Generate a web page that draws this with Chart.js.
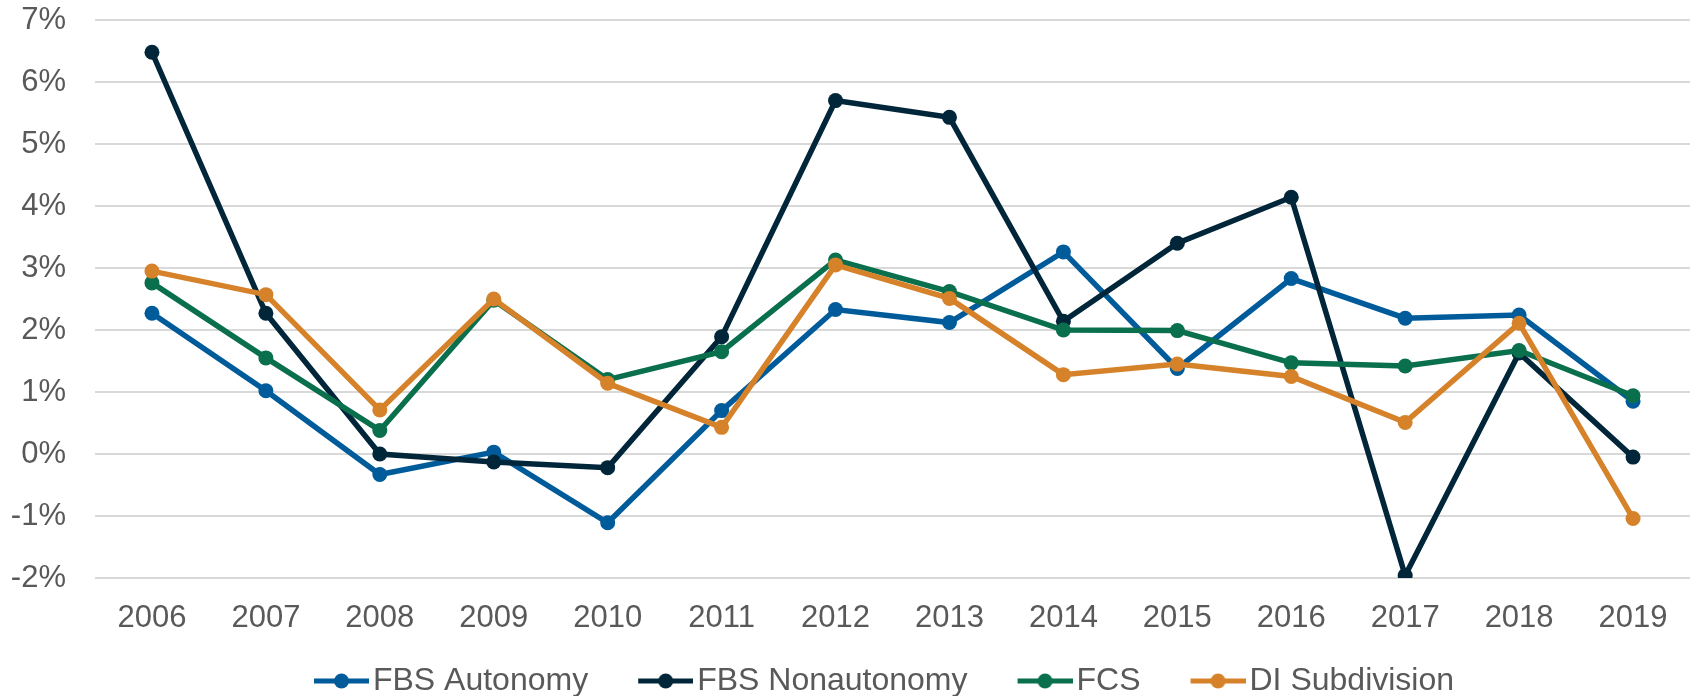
<!DOCTYPE html>
<html>
<head>
<meta charset="utf-8">
<style>
  html, body { margin: 0; padding: 0; background: #ffffff; }
  #wrap { width: 1698px; height: 696px; }
</style>
<script src="https://cdn.jsdelivr.net/npm/chart.js@4.4.1/dist/chart.umd.min.js"></script>
</head>
<body>
<div id="wrap"><canvas id="myChart" width="1698" height="696"></canvas></div>
<script>
var years = ['2006', '2007', '2008', '2009', '2010', '2011', '2012', '2013', '2014', '2015', '2016', '2017', '2018', '2019'];

var fbsAutonomy = [2.27, 1.02, -0.33, 0.03, -1.11, 0.70, 2.33, 2.12, 3.26, 1.38, 2.83, 2.19, 2.24, 0.85];
var fbsNonautonomy = [6.48, 2.27, 0.00, -0.13, -0.22, 1.89, 5.70, 5.43, 2.14, 3.40, 4.14, -1.96, 1.63, -0.05];
var fcs = [2.76, 1.55, 0.38, 2.48, 1.20, 1.65, 3.13, 2.62, 2.00, 1.99, 1.47, 1.42, 1.67, 0.94];
var diSubdivision = [2.95, 2.57, 0.71, 2.50, 1.14, 0.43, 3.05, 2.51, 1.28, 1.45, 1.25, 0.51, 2.11, -1.04];

var seriesNames = ['FBS Autonomy', 'FBS Nonautonomy', 'FCS', 'DI Subdivision'];
var seriesColors = ['#005b9b', '#022639', '#0a6f4c', '#d6822a'];

var fontFamily = '"Liberation Sans", Arial, sans-serif';
var textColor = '#595959';

// legend marker: a short line with a dot, placed at the right end of the image
function makeMarker(color) {
    var c = document.createElement('canvas');
    c.width = 109;
    c.height = 18;
    var g = c.getContext('2d');
    g.strokeStyle = color;
    g.lineWidth = 5;
    g.beginPath();
    g.moveTo(54, 9);
    g.lineTo(109, 9);
    g.stroke();
    g.fillStyle = color;
    g.beginPath();
    g.arc(81.5, 9, 7.5, 0, Math.PI * 2);
    g.fill();
    return c;
}

var markers = [];
for (var i = 0; i < seriesColors.length; i++) {
    markers.push(makeMarker(seriesColors[i]));
}

function makeDataset(idx, values) {
    return {
        label: seriesNames[idx],
        data: values,
        borderColor: seriesColors[idx],
        backgroundColor: seriesColors[idx],
        pointBackgroundColor: seriesColors[idx],
        pointBorderWidth: 0,
        pointRadius: 7.5,
        pointHoverRadius: 7.5,
        borderWidth: 5.5,
        fill: false,
        tension: 0,
        order: 4 - idx
    };
}

// nudge the legend row so it sits where the original has it
var legendShift = {
    id: 'legendShift',
    afterLayout: function (chart) {
        chart.legend.left += 13;
        chart.legend.right += 13;
    }
};

var ctx = document.getElementById('myChart').getContext('2d');

var myChart = new Chart(ctx, {
    type: 'line',
    data: {
        labels: years,
        datasets: [
            makeDataset(0, fbsAutonomy),
            makeDataset(1, fbsNonautonomy),
            makeDataset(2, fcs),
            makeDataset(3, diSubdivision)
        ]
    },
    plugins: [legendShift],
    options: {
        responsive: false,
        animation: false,
        layout: {
            padding: { top: 20, left: 10, right: 8, bottom: -11 }
        },
        scales: {
            x: {
                offset: true,
                afterFit: function (scale) {
                    scale.height = 79;
                },
                grid: { display: false, drawTicks: false },
                border: { display: false },
                ticks: {
                    color: textColor,
                    padding: 21.5,
                    maxRotation: 0,
                    font: { family: fontFamily, size: 31 }
                }
            },
            y: {
                min: -2,
                max: 7,
                afterFit: function (scale) {
                    scale.width = 85;
                    scale.paddingTop = 0;
                    scale.paddingBottom = 0;
                },
                grid: { color: '#d9d9d9', lineWidth: 2, drawTicks: false },
                border: { display: false },
                ticks: {
                    stepSize: 1,
                    padding: 29,
                    color: textColor,
                    font: { family: fontFamily, size: 31 },
                    callback: function (v) {
                        return v + '%';
                    }
                }
            }
        },
        plugins: {
            tooltip: { enabled: false },
            legend: {
                position: 'bottom',
                labels: {
                    usePointStyle: true,
                    pointStyleWidth: 85,
                    padding: 8,
                    color: textColor,
                    font: { family: fontFamily, size: 32 },
                    sort: function (a, b) {
                        return a.datasetIndex - b.datasetIndex;
                    },
                    generateLabels: function (chart) {
                        var items = Chart.defaults.plugins.legend.labels.generateLabels(chart);
                        for (var k = 0; k < items.length; k++) {
                            items[k].pointStyle = markers[items[k].datasetIndex];
                        }
                        return items;
                    }
                }
            }
        }
    }
});
</script>
</body>
</html>
